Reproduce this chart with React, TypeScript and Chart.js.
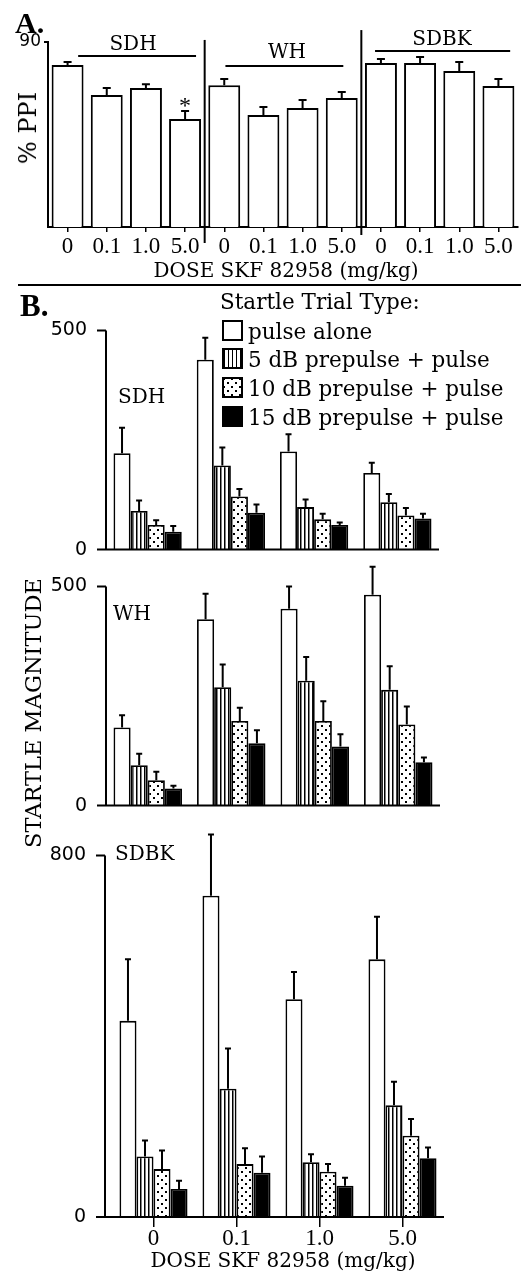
import React, { useEffect, useRef } from "react";
import { Chart, registerables } from "chart.js";

Chart.register(...registerables);

// ---------------- DATA ----------------
const doseLabels = ["0", "0.1", "1.0", "5.0"];
const strainNames = ["SDH", "WH", "SDBK"];

// Panel A: % PPI (mean, SEM) per strain
const ppiSDH = [78.8, 64.2, 67.6, 52.5];
const ppiSDHSem = [1.5, 3.4, 1.9, 3.9];
const ppiWH = [69.0, 54.5, 57.9, 62.7];
const ppiWHSem = [3.0, 3.9, 3.9, 3.0];
const ppiSDBK = [79.8, 79.8, 75.9, 68.6];
const ppiSDBKSem = [1.9, 2.9, 4.4, 3.4];
const ppiSigMarks = ["", "", "", "*", "", "", "", "", "", "", "", ""];
const ppiMax = 90;

// Panel B: startle magnitude (mean, SEM) per trial type
const trialTypes = [
  "pulse alone",
  "5 dB prepulse + pulse",
  "10 dB prepulse + pulse",
  "15 dB prepulse + pulse",
];

const sdhPulse = [220, 433, 224, 175];
const sdhPulseSem = [58, 50, 39, 23];
const sdh5 = [88, 192, 97, 108];
const sdh5Sem = [24, 41, 17, 19];
const sdh10 = [56, 121, 69, 78];
const sdh10Sem = [11, 17, 13, 17];
const sdh15 = [41, 84, 56, 71];
const sdh15Sem = [13, 19, 6, 11];

const whPulse = [178, 425, 449, 481];
const whPulseSem = [28, 58, 51, 64];
const wh5 = [92, 270, 285, 264];
const wh5Sem = [26, 52, 54, 54];
const wh10 = [58, 193, 193, 185];
const wh10Sem = [19, 30, 45, 41];
const wh15 = [39, 142, 135, 99];
const wh15Sem = [6, 30, 28, 11];

const sdbkPulse = [434, 711, 482, 570];
const sdbkPulseSem = [136, 135, 60, 94];
const sdbk5 = [134, 284, 121, 247];
const sdbk5Sem = [35, 89, 18, 52];
const sdbk10 = [106, 117, 100, 180];
const sdbk10Sem = [41, 35, 17, 37];
const sdbk15 = [62, 98, 69, 130];
const sdbk15Sem = [18, 36, 18, 24];

const yMaxSDH = 500;
const yMaxWH = 500;
const yMaxSDBK = 800;

// ---------------- LAYOUT ----------------
const W = 521;
const H = 1274;
const SERIF = "'DejaVu Serif', serif";
const TSERIF = "'Liberation Serif', 'Times New Roman', serif";
const SANS = "'DejaVu Sans', sans-serif";

// ---------------- HELPERS ----------------
function makeTile(w: number, h: number, draw: (g: CanvasRenderingContext2D) => void) {
  const c = document.createElement("canvas");
  c.width = w;
  c.height = h;
  const g = c.getContext("2d")!;
  draw(g);
  return g.createPattern(c, "repeat")!;
}
const stripes = () =>
  makeTile(4, 4, (g) => {
    g.fillStyle = "#fff";
    g.fillRect(0, 0, 4, 4);
    g.fillStyle = "#000";
    g.fillRect(0, 0, 1.5, 4);
  });
const dots = () =>
  makeTile(8, 8, (g) => {
    g.fillStyle = "#fff";
    g.fillRect(0, 0, 8, 8);
    g.fillStyle = "#000";
    g.fillRect(1, 1, 2, 2);
    g.fillRect(5, 5, 2, 2);
  });

const errorBars = {
  id: "errorBars",
  afterDatasetsDraw(chart: any, _a: any, opts: any) {
    const ctx = chart.ctx;
    const ys = chart.scales.y;
    chart.data.datasets.forEach((ds: any, di: number) => {
      if (!ds.sem) return;
      const meta = chart.getDatasetMeta(di);
      meta.data.forEach((bar: any, i: number) => {
        const top = ys.getPixelForValue(ds.data[i] + ds.sem[i]);
        ctx.save();
        ctx.strokeStyle = "#000";
        ctx.lineWidth = opts.width;
        ctx.beginPath();
        ctx.moveTo(bar.x, bar.y);
        ctx.lineTo(bar.x, top);
        ctx.moveTo(bar.x - opts.cap, top);
        ctx.lineTo(bar.x + opts.cap, top);
        ctx.stroke();
        if (ds.marks && ds.marks[i]) {
          ctx.fillStyle = "#000";
          ctx.font = "24px " + TSERIF;
          ctx.textAlign = "center";
          ctx.textBaseline = "alphabetic";
          ctx.fillText(ds.marks[i], bar.x, top + 1.5);
        }
        ctx.restore();
      });
    });
  },
};

const groupHeaders = {
  id: "groupHeaders",
  afterDraw(chart: any, _a: any, opts: any) {
    const ctx = chart.ctx;
    const xs = chart.scales.x;
    const ys = chart.scales.y;
    ctx.save();
    ctx.strokeStyle = "#000";
    ctx.lineWidth = 2;
    opts.spans.forEach((s: number[]) => {
      ctx.beginPath();
      ctx.moveTo(xs.getPixelForValue(s[0]), ys.getPixelForValue(s[2]));
      ctx.lineTo(xs.getPixelForValue(s[1]), ys.getPixelForValue(s[2]));
      ctx.stroke();
    });
    opts.dividers.forEach((d: number[]) => {
      const px = (xs.getPixelForValue(d[0]) + xs.getPixelForValue(d[0] + 1)) / 2;
      ctx.beginPath();
      ctx.moveTo(px, ys.getPixelForValue(d[1]));
      ctx.lineTo(px, ys.getPixelForValue(0) + d[2]);
      ctx.stroke();
    });
    ctx.restore();
  },
};

const leftAxis = {
  id: "leftAxis",
  afterDraw(chart: any, _a: any, opts: any) {
    const ctx = chart.ctx;
    const area = chart.chartArea;
    const ys = chart.scales.y;
    const ax = area.left - opts.inset;
    const y0 = ys.getPixelForValue(0);
    const yM = ys.getPixelForValue(ys.max);
    ctx.save();
    ctx.strokeStyle = "#000";
    ctx.lineWidth = 2;
    ctx.beginPath();
    ctx.moveTo(ax, yM);
    ctx.lineTo(ax, y0);
    ctx.moveTo(ax - opts.tick, yM);
    ctx.lineTo(ax, yM);
    ctx.moveTo(ax - opts.tick, y0);
    ctx.lineTo(area.right + opts.extend, y0);
    ctx.stroke();
    ctx.restore();
  },
};

// ---------------- CHART CONFIGS ----------------
function ppiConfig() {
  const labels = [...doseLabels, ...doseLabels, ...doseLabels];
  return {
    type: "bar",
    data: {
      labels,
      datasets: [
        {
          label: "% PPI",
          data: [...ppiSDH, ...ppiWH, ...ppiSDBK],
          sem: [...ppiSDHSem, ...ppiWHSem, ...ppiSDBKSem],
          marks: ppiSigMarks,
          backgroundColor: "#fff",
          borderColor: "#000",
          borderWidth: 2,
          barPercentage: 0.815,
          categoryPercentage: 1,
        },
      ],
    },
    options: {
      responsive: false,
      animation: false,
      layout: { padding: { top: 42, right: 3, left: 0, bottom: 0 } },
      plugins: {
        legend: { display: false },
        tooltip: { enabled: false },
        errorBars: { cap: 4, width: 2 },
        groupHeaders: {
          spans: [
            [0.27, 3.28, 83.2],
            [4.03, 7.04, 78.3],
            [7.85, 11.3, 85.6],
          ],
          dividers: [
            [3, 91, 16],
            [7, 95.8, 8],
          ],
        },
      },
      scales: {
        x: {
          grid: { display: true, drawOnChartArea: false, drawTicks: true, tickLength: 5, offset: false, color: "#000", lineWidth: 1.5 },
          border: { display: true, color: "#000", width: 2 },
          ticks: { color: "#000", font: { family: TSERIF, size: 23, lineHeight: 1 }, padding: 3, maxRotation: 0, autoSkip: false },
          afterFit: (s: any) => {
            s.height = 53;
          },
        },
        y: {
          min: 0,
          max: ppiMax,
          afterBuildTicks: (s: any) => {
            s.ticks = [{ value: ppiMax }];
          },
          grid: { display: true, drawOnChartArea: false, drawTicks: true, tickLength: 4, color: "#000", lineWidth: 2 },
          border: { display: true, color: "#000", width: 2 },
          ticks: { color: "#000", font: { family: SANS, size: 17 }, padding: 3 },
          afterFit: (s: any) => {
            s.width = 48;
          },
        },
      },
    },
    plugins: [errorBars, groupHeaders],
  };
}

type Area = { top: number; bottom: number; left: number; right: number };

function startleConfig(
  series: number[][],
  sems: number[][],
  yMax: number,
  area: Area,
  canvasH: number,
  inset: number,
  labelPad: number,
  showX: boolean
) {
  const fills: any[] = ["#fff", stripes(), dots(), "#000"];
  return {
    type: "bar",
    data: {
      labels: doseLabels,
      datasets: series.map((d, k) => ({
        label: trialTypes[k],
        data: d,
        sem: sems[k],
        backgroundColor: fills[k],
        borderColor: "#000",
        borderWidth: 1.8,
        barPercentage: 1,
        categoryPercentage: 0.82,
      })),
    },
    options: {
      responsive: false,
      animation: false,
      layout: {
        padding: { top: area.top, right: W - area.right, left: 0, bottom: showX ? 0 : canvasH - area.bottom },
      },
      plugins: {
        legend: { display: false },
        tooltip: { enabled: false },
        errorBars: { cap: 3, width: 2 },
        leftAxis: { inset, tick: 9, extend: 0 },
      },
      scales: {
        x: showX
          ? {
              grid: { display: true, drawOnChartArea: false, drawTicks: true, tickLength: 10, offset: false, color: "#000", lineWidth: 1.5 },
              border: { display: false },
              ticks: { color: "#000", font: { family: TSERIF, size: 23, lineHeight: 1 }, padding: 0, maxRotation: 0, autoSkip: false },
              afterFit: (s: any) => {
                s.height = canvasH - area.bottom;
              },
            }
          : { display: false },
        y: {
          min: 0,
          max: yMax,
          afterBuildTicks: (s: any) => {
            s.ticks = [{ value: 0 }, { value: yMax }];
          },
          grid: { display: false, drawTicks: false },
          border: { display: false },
          ticks: { color: "#000", font: { family: SANS, size: 19 }, padding: labelPad },
          afterFit: (s: any) => {
            s.width = area.left;
          },
        },
      },
    },
    plugins: [errorBars, leftAxis],
  };
}

// ---------------- COMPONENTS ----------------
function ChartBox({ top, height, make }: { top: number; height: number; make: () => any }) {
  const ref = useRef<HTMLCanvasElement>(null);
  useEffect(() => {
    const chart = new Chart(ref.current as HTMLCanvasElement, make());
    return () => chart.destroy();
  }, []);
  return (
    <canvas
      ref={ref}
      width={W}
      height={height}
      style={{ position: "absolute", left: 0, top, width: W, height }}
    />
  );
}

function Txt(props: {
  x: number;
  baseline: number;
  size: number;
  family?: string;
  bold?: boolean;
  center?: boolean;
  k?: number;
  children: React.ReactNode;
}) {
  const k = props.k ?? 0.846;
  return (
    <div
      style={{
        position: "absolute",
        left: props.x,
        top: props.baseline - k * props.size,
        fontFamily: props.family ?? SERIF,
        fontSize: props.size,
        fontWeight: props.bold ? "bold" : "normal",
        lineHeight: 1,
        whiteSpace: "nowrap",
        color: "#000",
        transform: props.center ? "translateX(-50%)" : undefined,
      }}
    >
      {props.children}
    </div>
  );
}

function VText({ cx, cy, size, children }: { cx: number; cy: number; size: number; children: React.ReactNode }) {
  return (
    <div
      style={{
        position: "absolute",
        left: cx,
        top: cy,
        fontFamily: SERIF,
        fontSize: size,
        lineHeight: 1,
        whiteSpace: "nowrap",
        color: "#000",
        transform: "translate(-50%, -50%) rotate(-90deg)",
      }}
    >
      {children}
    </div>
  );
}

const legendSwatches: React.CSSProperties[] = [
  { background: "#fff" },
  { background: "repeating-linear-gradient(90deg, #000 0px, #000 1.5px, #fff 1.5px, #fff 4px)" },
  {
    backgroundColor: "#fff",
    backgroundImage:
      "radial-gradient(circle, #000 1px, transparent 1.4px), radial-gradient(circle, #000 1px, transparent 1.4px)",
    backgroundSize: "8px 8px, 8px 8px",
    backgroundPosition: "0 0, 4px 4px",
  },
  { background: "#000" },
];
const legendBoxTops = [320, 348, 377, 406];

export default function App() {
  return (
    <div style={{ position: "absolute", left: 0, top: 0, width: W, height: H, background: "#fff", overflow: "hidden" }}>
      {/* Panel A */}
      <ChartBox top={0} height={280} make={ppiConfig} />
      <Txt x={15} baseline={33} size={30} family={TSERIF} bold k={0.8375}>A.</Txt>
      <Txt x={133} baseline={50} size={20} center>{strainNames[0]}</Txt>
      <Txt x={287} baseline={58} size={20} center>{strainNames[1]}</Txt>
      <Txt x={442} baseline={45} size={20} center>{strainNames[2]}</Txt>
      <VText cx={28} cy={128} size={24}>% PPI</VText>
      <Txt x={286} baseline={277} size={20} center>DOSE SKF 82958 (mg/kg)</Txt>
      <div style={{ position: "absolute", left: 18, top: 284, width: W - 18, height: 2, background: "#000" }} />

      {/* Panel B */}
      <ChartBox
        top={300}
        height={280}
        make={() =>
          startleConfig(
            [sdhPulse, sdh5, sdh10, sdh15],
            [sdhPulseSem, sdh5Sem, sdh10Sem, sdh15Sem],
            yMaxSDH,
            { top: 30, bottom: 262, left: 106, right: 439 },
            280,
            0,
            19,
            false
          )
        }
      />
      <ChartBox
        top={556}
        height={280}
        make={() =>
          startleConfig(
            [whPulse, wh5, wh10, wh15],
            [whPulseSem, wh5Sem, wh10Sem, wh15Sem],
            yMaxWH,
            { top: 30, bottom: 263, left: 106, right: 440 },
            280,
            0,
            19,
            false
          )
        }
      />
      <ChartBox
        top={818}
        height={456}
        make={() =>
          startleConfig(
            [sdbkPulse, sdbk5, sdbk10, sdbk15],
            [sdbkPulseSem, sdbk5Sem, sdbk10Sem, sdbk15Sem],
            yMaxSDBK,
            { top: 30, bottom: 399, left: 112, right: 444 },
            456,
            7,
            26,
            true
          )
        }
      />
      <Txt x={20} baseline={316} size={31} family={TSERIF} bold k={0.8375}>B.</Txt>
      <Txt x={220} baseline={309} size={21.5}>Startle Trial Type:</Txt>
      {trialTypes.map((t, i) => (
        <React.Fragment key={t}>
          <div
            style={{
              position: "absolute",
              left: 222,
              top: legendBoxTops[i],
              width: 21,
              height: 21,
              boxSizing: "border-box",
              border: "2px solid #000",
              ...legendSwatches[i],
            }}
          />
          <Txt x={248} baseline={legendBoxTops[i] + 19} size={21.5}>{t}</Txt>
        </React.Fragment>
      ))}
      <Txt x={118} baseline={403} size={20}>{strainNames[0]}</Txt>
      <Txt x={113} baseline={620} size={20}>{strainNames[1]}</Txt>
      <Txt x={115} baseline={860} size={20}>{strainNames[2]}</Txt>
      <VText cx={33} cy={713} size={22.5}>STARTLE MAGNITUDE</VText>
      <Txt x={283} baseline={1267} size={20} center>DOSE SKF 82958 (mg/kg)</Txt>
    </div>
  );
}
